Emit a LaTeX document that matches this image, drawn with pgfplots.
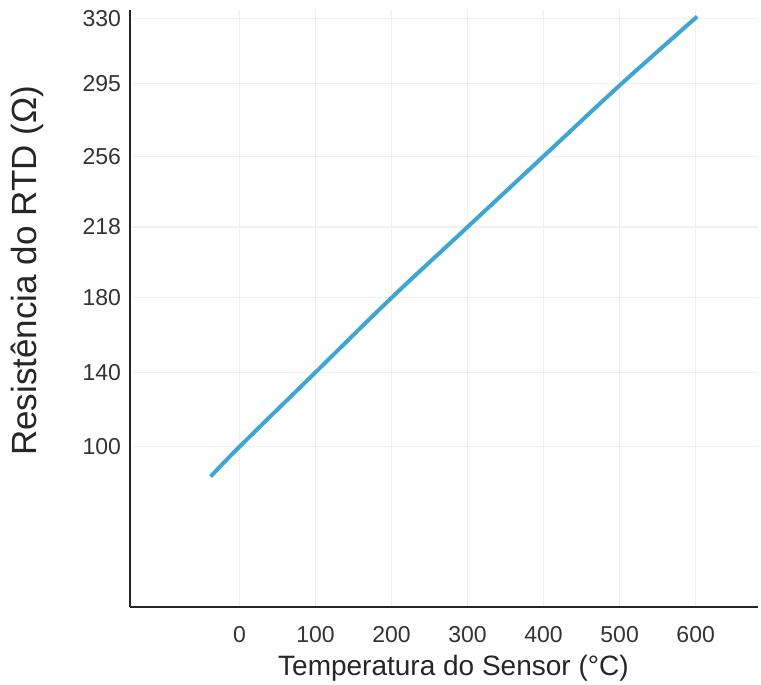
\documentclass[border=0pt]{standalone}
\usepackage{pgfplots}
\pgfplotsset{compat=1.18}
\usepackage{fontspec}
\setmainfont{Liberation Sans}
\definecolor{rtdblue}{HTML}{3EA6D3}
\definecolor{gridgray}{HTML}{F0F0F0}
\begin{document}
\begin{tikzpicture}
  \begin{axis}[
    scale only axis,
    width=314pt, height=298.5pt,
    xmin=-144, xmax=682,
    ymin=14, ymax=334.5,
    axis x line*=bottom, axis y line*=left,
    axis line style={line width=1.1pt, black!85},
    xtick={0,100,200,300,400,500,600},
    ytick={100,140,180,218,256,295,330},
    tick style={draw=none},
    grid=major,
    major grid style={gridgray, line width=0.6pt},
    ticklabel style={font=\fontsize{11.5}{13}\selectfont, text=black!80},
    /pgf/number format/assume math mode=true,
    xticklabel style={yshift=-6pt},
    yticklabel style={xshift=-1pt},
    xlabel={Temperatura do Sensor (°C)},
    ylabel={Resistência do RTD (Ω)},
    xlabel style={font=\fontsize{14}{17}\selectfont, text=black!85,
                  at={(axis description cs:0.515,-0.102)}, anchor=center},
    ylabel style={font=\fontsize{17.5}{20}\selectfont, text=black!85,
                  at={(axis description cs:-0.163,0.563)}, anchor=center},
    clip=false,
  ]
    \addplot[rtdblue, line width=2pt, smooth, tension=0.6] coordinates {
      (-38,84) (0,100) (100,140) (200,180) (300,218) (400,256) (500,294) (602,331)
    };
  \end{axis}
  \pgfresetboundingbox
  \path (-65pt,-39pt) rectangle (315.5pt,303.5pt);
\end{tikzpicture}
\end{document}
